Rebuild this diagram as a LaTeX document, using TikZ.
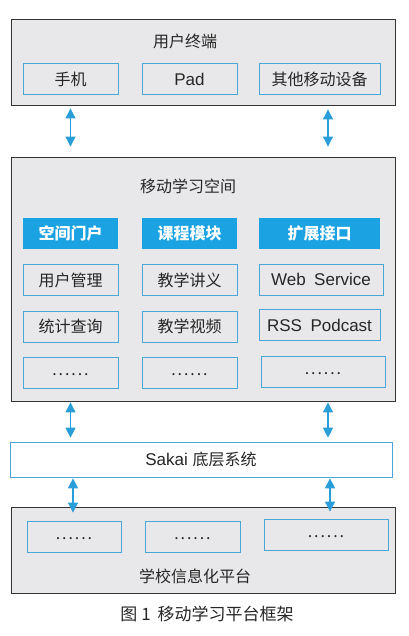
\documentclass[tikz,border=0pt]{standalone}
\usepackage{fontspec}
\setmainfont{Liberation Sans}
\newfontfamily\cjk{Noto Sans CJK SC}
\usetikzlibrary{arrows.meta}
\definecolor{panelgray}{HTML}{E8E8EA}
\definecolor{lineblue}{HTML}{4AA6D6}
\definecolor{headblue}{HTML}{1AA2E2}
\definecolor{arrowblue}{HTML}{2A9ED8}
\newcommand{\etcdots}{\strut\raisebox{1pt}[0pt][0pt]{.\hspace{0.12em}.\hspace{0.12em}.\hspace{0.12em}.\hspace{0.12em}.\hspace{0.12em}.}}
\begin{document}
\begin{tikzpicture}[
x=1pt, y=-1pt,
layer/.style={rectangle, draw=black!80, fill=panelgray, line width=0.9pt, minimum width=384pt, inner sep=0pt},
item/.style={rectangle, draw=lineblue, fill=panelgray, line width=0.7pt, minimum height=31pt, inner sep=0pt, text=black!85, font=\fontsize{16}{19}\selectfont\cjk},
latin/.style={font=\fontsize{17}{20}\selectfont},
head/.style={rectangle, fill=headblue, text=white, minimum height=31pt, inner sep=0pt, font=\fontsize{16}{19}\selectfont\cjk\bfseries},
title/.style={font=\fontsize{16}{19}\selectfont\cjk, inner sep=0pt, text=black!85},
link/.style={{Triangle[width=10pt,length=10pt]}-{Triangle[width=10pt,length=10pt]}, draw=arrowblue, line width=1.1pt},
]
\useasboundingbox (0,0) rectangle (408,636);
% user terminals
\node[layer] (term) [minimum height=86pt] at (203,62) {};
\node[title] (termT) at (185,41) {用户终端};
\node[item] (phone) [minimum width=95pt] at (70.5,79) {手机};
\node[item, latin] (pad) [minimum width=95pt] at (189.5,79) {Pad};
\node[item] (other) [minimum width=121pt] at (319.5,79) {其他移动设备};
% mobile learning space
\node[layer] (space) [minimum height=244pt] at (203,279) {};
\node[title] (spaceT) at (188,186) {移动学习空间};
\node[head] (portal) [minimum width=95pt] at (70.5,233.5) {空间门户};
\node[head] (course) [minimum width=95pt] at (189.5,233.5) {课程模块};
\node[head] (ext) [minimum width=121pt] at (319.5,233.5) {扩展接口};
\node[item] (user) [minimum width=95pt] at (70.5,280) {用户管理};
\node[item] (stat) [minimum width=95pt] at (70.5,326.5) {统计查询};
\node[item] (more1) [minimum width=95pt] at (70.5,373) {\etcdots};
\node[item] (notes) [minimum width=95pt] at (189.5,280) {教学讲义};
\node[item] (video) [minimum width=95pt] at (189.5,326.5) {教学视频};
\node[item] (more2) [minimum width=95pt] at (189.5,373) {\etcdots};
\node[item, latin] (ws) [minimum width=124pt] at (321,279.5) {Web\hspace{0.5em}Service};
\node[item, latin] (rss) [minimum width=121pt] at (319.5,325) {RSS\hspace{0.5em}Podcast};
\node[item] (more3) [minimum width=124pt] at (323,372) {\etcdots};
% sakai
\node[item, latin] (sakai) [fill=white, minimum width=382pt, minimum height=35pt] at (201,459.5) {Sakai {\cjk\fontsize{16}{19}\selectfont 底层系统}};
% school platform
\node[layer] (school) [minimum height=86pt] at (203,550) {};
\node[item] (sys1) [minimum width=94pt] at (74,536.5) {\etcdots};
\node[item] (sys2) [minimum width=95pt] at (192.5,536.5) {\etcdots};
\node[item] (sys3) [minimum width=124pt] at (326,535) {\etcdots};
\node[title] (schoolT) at (195,576) {学校信息化平台};
\node[title] (caption) [font=\fontsize{17}{20}\selectfont\cjk] at (207,614) {图 1\hspace{0.4em}移动学习平台框架};
% links
\draw[link, shorten <=3pt, shorten >=10pt] (term.south -| phone) -- (space.north -| phone);
\draw[link, shorten <=4pt, shorten >=10pt] ([xshift=8.5pt]term.south -| other) -- ([xshift=8.5pt]space.north -| other);
\draw[link, shorten <=1pt, shorten >=4pt] (space.south -| phone) -- (sakai.north -| phone);
\draw[link, shorten <=1pt, shorten >=4pt] ([xshift=8.5pt]space.south -| other) -- ([xshift=8.5pt]sakai.north -| other);
\draw[link, shorten <=1pt, shorten >=-6pt] ([xshift=2.5pt]sakai.south -| phone) -- ([xshift=2.5pt]school.north -| phone);
\draw[link, shorten <=1pt, shorten >=-5pt] ([xshift=10.5pt]sakai.south -| other) -- ([xshift=10.5pt]school.north -| other);
\end{tikzpicture}
\end{document}
